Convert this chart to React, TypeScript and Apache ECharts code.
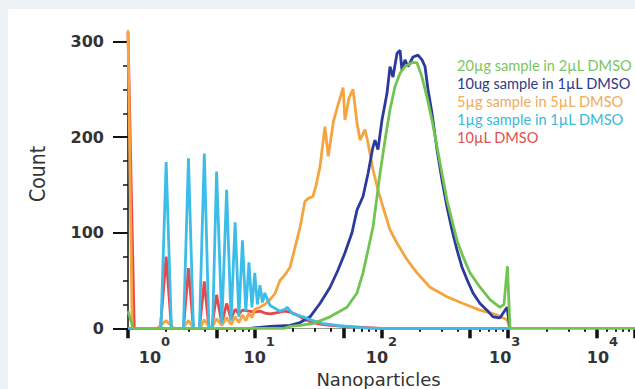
import React, { useEffect, useRef } from "react";
import * as echarts from "echarts";

// ---------- data ----------
const seriesNames = [
  "20µg sample in 2µL DMSO",
  "10ug sample in 1µL DMSO",
  "5µg sample in 5µL DMSO",
  "1µg sample in 1µL DMSO",
  "10µL DMSO",
];

const dmso10uL: [number, number][] = [
  [1, 310], [1.12, 0], [1.8, 0], [2, 75], [2.2, 0], [2.74, 0], [3, 63], [3.28, 0], [3.66, 0],
  [4, 49], [4.35, 0], [4.6, 2], [5, 35], [5.5, 5], [6, 26], [6.5, 10], [7, 20], [7.5, 15],
  [8, 19], [9, 18], [10, 17], [11, 18], [12, 16], [13.2, 15], [14.4, 16], [15.8, 17], [17.3, 18],
  [19, 17], [20.8, 15], [22.8, 12], [25, 9], [28.8, 6], [34, 4], [39.3, 3], [50, 2], [71.5, 1],
  [100, 0], [1040, 0],
];

const sample5ug: [number, number][] = [
  [1, 312], [1.08, 0], [1.7, 0], [2, 8], [2.3, 0], [2.7, 0], [3, 8], [3.3, 0], [3.7, 0], [4, 9],
  [4.4, 1], [4.6, 1], [5, 10], [5.5, 3], [6, 11], [6.5, 4], [7, 12], [7.5, 6], [8, 14], [8.5, 8],
  [9, 16], [9.5, 11], [10, 20], [11, 22], [12, 25], [13.2, 30], [14.4, 36], [15.8, 50], [17.3, 56],
  [19, 64], [20.8, 85], [22.8, 106], [24.9, 133], [26.5, 136], [28.8, 138], [30.5, 150], [32.7, 169],
  [35.8, 211], [38, 180], [41.7, 216], [45.4, 234], [49.8, 252], [51.5, 218], [55.4, 241], [59.6, 250],
  [64.1, 215], [67.7, 197], [74.1, 208], [78.3, 194], [85.7, 166], [93.8, 145], [102.8, 127],
  [116.7, 103], [132.6, 89], [158.9, 72], [190.6, 58], [241.3, 43], [328.7, 33], [439.5, 26],
  [598.6, 19], [815, 14], [977, 9], [1032, 0], [1040, 0],
];

const sample10ug: [number, number][] = [
  [1, 0], [9.2, 0], [13.2, 2], [19, 3], [22.8, 6], [27.3, 12], [32.7, 26], [39.3, 43], [45.4, 61],
  [51.5, 79], [58.5, 100], [64.1, 124], [71.5, 138], [78.3, 162], [85.7, 190], [88.9, 197],
  [93.8, 187], [100.9, 218], [110.5, 246], [116.7, 274], [123.2, 263], [132.6, 288], [140, 291],
  [145.1, 270], [153.2, 281], [161.9, 274], [177.3, 284], [194.1, 286], [208.7, 281], [220.4, 274],
  [232.8, 250], [250.2, 225], [274.2, 187], [300.2, 155], [328.7, 127], [359.9, 103], [394.1, 82],
  [431.6, 64], [472.7, 51], [527.1, 37], [598.6, 26], [679.7, 19], [758.1, 12], [860.8, 11],
  [977.5, 22], [1032, 0], [1040, 0],
];

const sample20ug: [number, number][] = [
  [1, 18], [1.1, 0], [17, 0], [19, 2], [22.8, 3], [28.8, 5], [39.3, 12], [53.4, 22], [64.1, 37],
  [71.5, 58], [78.3, 82], [85.7, 106], [92.2, 138], [97.3, 162], [106.6, 197], [116.7, 229],
  [127.8, 253], [140, 267], [153.2, 274], [174, 278], [190.6, 278], [208.7, 263], [228.6, 242],
  [250.2, 218], [274.2, 190], [300.2, 162], [328.7, 134], [359.9, 113], [394.1, 92], [439.5, 75],
  [499.2, 58], [598.6, 43], [717.8, 30], [860.8, 22], [925.7, 25], [985, 65], [1032, 0], [10000, 0],
];

const sample1ug: [number, number][] = [
  [1, 0], [1.82, 0], [2, 174], [2.2, 0], [2.74, 0], [3, 178], [3.28, 0], [3.66, 0], [4, 183],
  [4.35, 0], [4.65, 2], [5, 164], [5.5, 5], [6, 145], [6.5, 8], [7, 111], [7.5, 12], [8, 92],
  [8.5, 18], [9, 69], [9.5, 22], [10, 58], [10.5, 25], [11, 45], [11.5, 27], [12, 37], [13.2, 24],
  [14.4, 21], [15.8, 18], [17.3, 20], [18, 22], [20, 15], [24, 12], [28.8, 8], [34.6, 5],
  [44.6, 3], [64.1, 1], [81.2, 0], [1040, 0],
];

const xLabelValues = [1, 10, 100, 1000, 10000];
const xMajorTicks = [1, 5, 10, 50, 100, 500, 1000, 5000, 10000];
const xMinorTicks = [
  2, 3, 4, 6, 7, 8, 9, 20, 30, 40, 60, 70, 80, 90, 200, 300, 400, 600, 700, 800, 900,
  2000, 3000, 4000, 6000, 7000, 8000, 9000,
];
const yTickValues = [0, 100, 200, 300];

// ---------- styles ----------
const lineColors = ["#72c450", "#2c3a9c", "#f5a43f", "#3bbde8", "#e8474a"];
const legendColors = ["#7cc55e", "#2d3a8e", "#f0ac58", "#3cb7d9", "#e0504e"];
const xLabelNudge = [22, 0, -4.5, -8, -37];
const SUP_W = 9;

const seriesData = [sample20ug, sample10ug, sample5ug, sample1ug, dmso10uL];
const drawOrder = [4, 2, 1, 3, 0];

export default function App() {
  const ref = useRef<HTMLDivElement>(null);
  useEffect(() => {
    const chart = echarts.init(ref.current!, null, { renderer: "svg" });
    const rich: any = {};
    xLabelValues.forEach((_, i) => {
      const d = 2 * xLabelNudge[i] + SUP_W;
      rich["b" + i] = {
        fontFamily: "DejaVu Sans", fontWeight: "bold", fontSize: 16, color: "#333",
        lineHeight: 30, verticalAlign: "bottom", padding: [0, 0, 0, Math.max(0, d)],
      };
      rich["s" + i] = {
        fontFamily: "DejaVu Sans", fontWeight: "bold", fontSize: 13, color: "#333",
        lineHeight: 15, verticalAlign: "top", padding: [0, Math.max(0, -d), 0, 0],
      };
    });
    const option: any = {
      animation: false,
      backgroundColor: "#ffffff",
      grid: { left: 120, right: 0, top: 32.7, bottom: 60.7, containLabel: false, outerBoundsMode: "none" },
      legend: {
        orient: "vertical", left: 439, top: 42, itemGap: 0, itemWidth: 0, itemHeight: 14,
        icon: "none", selectedMode: false,
        textStyle: { fontFamily: "Lato", fontSize: 14.6, lineHeight: 18.2 },
        data: seriesNames.map((n, i) => ({ name: n, textStyle: { color: legendColors[i] } })),
      },
      xAxis: [
        {
          type: "log", logBase: 10, min: 1, max: 10000, position: "bottom",
          name: "Nanoparticles", nameLocation: "middle", nameGap: 42,
          nameTextStyle: { fontFamily: "DejaVu Sans", fontSize: 18, color: "#333", padding: [0, 6, 0, 0] },
          axisLine: { show: true, lineStyle: { color: "#9a9a9a", width: 1 } },
          axisTick: { show: true, customValues: xMajorTicks, length: 10, lineStyle: { color: "#111", width: 3.5 } },
          axisLabel: {
            show: true, customValues: xLabelValues, margin: 7,
            formatter: (v: number) => {
              const e = Math.round(Math.log10(v));
              return `{b${e}|10}{s${e}|${e}}`;
            },
            rich,
          },
          splitLine: { show: false },
          minorTick: { show: false },
        },
        {
          type: "log", logBase: 10, min: 1, max: 10000, position: "bottom", gridIndex: 0,
          axisLine: { show: false },
          axisTick: { show: true, customValues: xMinorTicks, length: 3.5, lineStyle: { color: "#111", width: 2 } },
          axisLabel: { show: false },
          splitLine: { show: false },
        },
      ],
      yAxis: {
        type: "value", min: 0, max: 300, interval: 100,
        name: "Count", nameLocation: "middle", nameGap: 80, nameRotate: 90,
        nameTextStyle: {
          fontFamily: "'DejaVu Sans Condensed', 'Liberation Sans Narrow', sans-serif",
          fontSize: 21, color: "#333", padding: [0, 0, 0, 22],
        },
        axisLine: { show: true, lineStyle: { color: "#111", width: 1.5 } },
        axisTick: { show: true, length: 15, lineStyle: { color: "#111", width: 2 } },
        minorTick: { show: true, splitNumber: 4, length: 5, lineStyle: { color: "#111", width: 1.5 } },
        axisLabel: {
          margin: 24, fontFamily: "DejaVu Sans", fontWeight: "bold", fontSize: 16, color: "#333",
          customValues: yTickValues,
        },
        splitLine: { show: false },
      },
      series: drawOrder.map((i, k) => ({
        name: seriesNames[i],
        type: "line",
        xAxisIndex: 0,
        data: seriesData[i],
        showSymbol: false,
        symbol: "none",
        clip: false,
        z: 2 + k,
        lineStyle: { color: lineColors[i], width: 2.8 },
        itemStyle: { color: lineColors[i] },
        emphasis: { disabled: true },
      })),
    };
    chart.setOption(option);
    return () => chart.dispose();
  }, []);
  return (
    <div style={{ position: "fixed", left: 0, top: 0, width: 635, height: 389, background: "#edf1f4", overflow: "hidden" }}>
      <div ref={ref} style={{ position: "absolute", left: 8, top: 9, width: 627, height: 380, background: "#fff" }} />
    </div>
  );
}
